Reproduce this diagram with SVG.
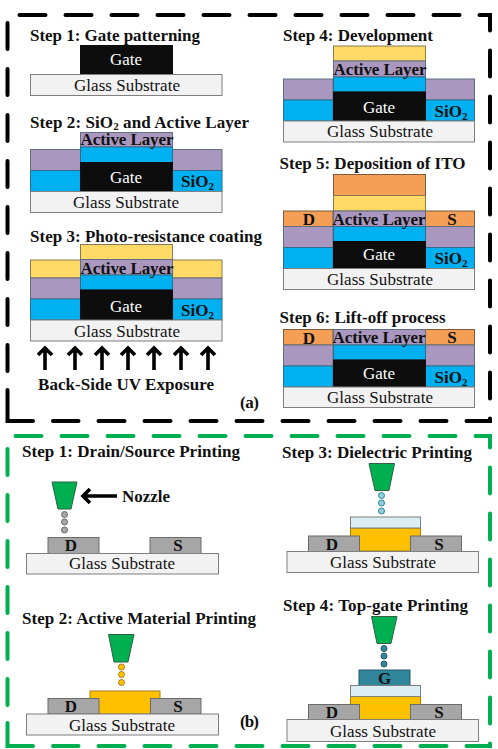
<svg xmlns="http://www.w3.org/2000/svg" width="498" height="749" viewBox="0 0 498 749">
<defs>
<style>
text{font-family:"Liberation Serif","Times New Roman",serif;font-size:17px;fill:#111}
.t{font-weight:bold;font-size:17px}
.b{font-weight:bold}
.m{text-anchor:middle}
.w{fill:#fff}
rect,polygon,circle{stroke-width:1}
.glass{fill:#f2f2f2;stroke:#7f7f7f}
.gate{fill:#0d0d0d;stroke:#0d0d0d}
.pur{fill:#a997bf;stroke:#5f6f80}
.cy{fill:#00b0f0;stroke:#2c6e8c}
.yel{fill:#ffd966;stroke:#8a7a50}
.or{fill:#f59e56;stroke:#7d5a3c}
.gr{fill:#a6a6a6;stroke:#6b6b6b}
.am{fill:#ffc000;stroke:#a67c1a}
.lb{fill:#daeef3;stroke:#7f7f7f}
.tg{fill:#31859b;stroke:#215968}
.noz{fill:#00b050;stroke:#2f5f45}
.d1{fill:#a6a6a6;stroke:#6b6b6b}
.d2{fill:#ffc000;stroke:#a67c1a}
.d3{fill:#92cddc;stroke:#31859b}
.d4{fill:#31859b;stroke:#215968}
.bk{fill:none;stroke:#000;stroke-width:4;stroke-linecap:round;stroke-dasharray:26 20}
.bs{fill:none;stroke:#000;stroke-width:4;stroke-linecap:round;stroke-linejoin:miter}
.gn{fill:none;stroke:#00b050;stroke-width:4;stroke-linecap:round;stroke-dasharray:26 20}
.gs{fill:none;stroke:#00b050;stroke-width:4;stroke-linecap:round;stroke-linejoin:miter}
.ar{fill:none;stroke:#000;stroke-width:3.6}
</style>
</defs>
<g id="connectors">
<path class="bk" d="M19.500 15H490V421H53"/>
<path class="bk" d="M7.500 23V389"/>
<path class="bs" d="M7.500 390V421H33"/>
<path class="gn" d="M15.500 436H490V746H53"/>
<path class="gn" d="M7.500 449V722"/>
<path class="gs" d="M7.500 723V746H33"/>
<g class="ar">
<path d="M45 370V348M38 355L45 348L52 355"/>
<path d="M75 370V348M68 355L75 348L82 355"/>
<path d="M102 370V348M95 355L102 348L109 355"/>
<path d="M128 370V348M121 355L128 348L135 355"/>
<path d="M154 370V348M147 355L154 348L161 355"/>
<path d="M181 370V348M174 355L181 348L188 355"/>
<path d="M208 370V348M201 355L208 348L215 355"/>
<path d="M117 496H83M90 489L83 496L90 503"/>
</g>
</g>
<g id="a-step1">
<text class="t" x="30" y="41" textLength="170">Step 1: Gate patterning</text>
<rect class="gate" x="80.500" y="45.500" width="92" height="29"/>
<rect class="glass" x="30.500" y="74.500" width="191.500" height="21"/>
<text class="w m" x="126" y="65" textLength="32">Gate</text>
<text class="m" x="127" y="91" textLength="106">Glass Substrate</text>
</g>
<g id="a-step2">
<text class="t" x="30" y="128" textLength="219">Step 2: SiO<tspan font-size="11" dy="2">2</tspan><tspan dy="-2"> and Active Layer</tspan></text>
<rect class="pur" x="30.500" y="149.500" width="50" height="21"/>
<rect class="pur" x="172.500" y="149.500" width="49.500" height="21"/>
<rect class="cy" x="30.500" y="170.500" width="50" height="21"/>
<rect class="cy" x="172.500" y="170.500" width="49.500" height="21"/>
<rect class="pur" x="80.500" y="132.500" width="92" height="14.500"/>
<rect class="cy" x="80.500" y="147" width="92" height="15.500"/>
<rect class="gate" x="80.500" y="162.500" width="92" height="29"/>
<rect class="glass" x="30.500" y="191.500" width="191.500" height="21"/>
<text class="b m" x="127" y="145" textLength="93">Active Layer</text>
<text class="w m" x="126" y="183" textLength="32">Gate</text>
<text class="b" x="181" y="187" textLength="33">SiO<tspan font-size="11" dy="3">2</tspan></text>
<text class="m" x="126" y="208" textLength="106">Glass Substrate</text>
</g>
<g id="a-step3">
<text class="t" x="30" y="242" textLength="232">Step 3: Photo-resistance coating</text>
<rect class="yel" x="30.500" y="260" width="50" height="18"/>
<rect class="yel" x="172.500" y="260" width="49.500" height="18"/>
<rect class="pur" x="30.500" y="278" width="50" height="21"/>
<rect class="pur" x="172.500" y="278" width="49.500" height="21"/>
<rect class="cy" x="30.500" y="299" width="50" height="21"/>
<rect class="cy" x="172.500" y="299" width="49.500" height="21"/>
<rect class="yel" x="80.500" y="244.500" width="92" height="15"/>
<rect class="pur" x="80.500" y="259.500" width="92" height="15.500"/>
<rect class="cy" x="80.500" y="275" width="92" height="15"/>
<rect class="gate" x="80.500" y="290" width="92" height="30"/>
<rect class="glass" x="30.500" y="320" width="191.500" height="21"/>
<text class="b m" x="127" y="274" textLength="93">Active Layer</text>
<text class="w m" x="126" y="312" textLength="32">Gate</text>
<text class="b" x="181" y="316" textLength="33">SiO<tspan font-size="11" dy="3">2</tspan></text>
<text class="m" x="127" y="337" textLength="106">Glass Substrate</text>
<text class="b" x="38" y="390" textLength="176">Back-Side UV Exposure</text>
<text class="b" x="240" y="408" textLength="19">(a)</text>
</g>
<g id="a-step4">
<text class="t" x="283" y="41" textLength="150">Step 4: Development</text>
<rect class="pur" x="283.500" y="79" width="49.500" height="21"/>
<rect class="pur" x="425" y="79" width="49.500" height="21"/>
<rect class="cy" x="283.500" y="100" width="49.500" height="21"/>
<rect class="cy" x="425" y="100" width="49.500" height="21"/>
<rect class="yel" x="333.500" y="46" width="92" height="15"/>
<rect class="pur" x="333.500" y="61" width="92" height="16"/>
<rect class="cy" x="333.500" y="77" width="92" height="15"/>
<rect class="gate" x="333.500" y="92" width="92" height="29"/>
<rect class="glass" x="283.500" y="121" width="191" height="21"/>
<text class="b m" x="380" y="75" textLength="93">Active Layer</text>
<text class="w m" x="379" y="113" textLength="32">Gate</text>
<text class="b" x="434.500" y="117" textLength="33">SiO<tspan font-size="11" dy="3">2</tspan></text>
<text class="m" x="380" y="137" textLength="106">Glass Substrate</text>
</g>
<g id="a-step5">
<text class="t" x="279.500" y="169" textLength="186">Step 5: Deposition of ITO</text>
<rect class="or" x="283.500" y="211" width="49.500" height="15.500"/>
<rect class="or" x="425" y="211" width="49.500" height="15.500"/>
<rect class="pur" x="283.500" y="226.500" width="49.500" height="21"/>
<rect class="pur" x="425" y="226.500" width="49.500" height="21"/>
<rect class="cy" x="283.500" y="247.500" width="49.500" height="21"/>
<rect class="cy" x="425" y="247.500" width="49.500" height="21"/>
<rect class="or" x="333.500" y="174.500" width="92" height="21"/>
<rect class="yel" x="333.500" y="195.500" width="92" height="15.500"/>
<rect class="pur" x="333.500" y="211" width="92" height="15.500"/>
<rect class="cy" x="333.500" y="226.500" width="92" height="15"/>
<rect class="gate" x="333.500" y="241.500" width="92" height="27"/>
<rect class="glass" x="283.500" y="268.500" width="191" height="21"/>
<text class="b m" x="379" y="225" textLength="93">Active Layer</text>
<text class="b m" x="309" y="225">D</text>
<text class="b m" x="452" y="225">S</text>
<text class="w m" x="379" y="260" textLength="32">Gate</text>
<text class="b" x="434.500" y="264" textLength="33">SiO<tspan font-size="11" dy="3">2</tspan></text>
<text class="m" x="380" y="285" textLength="106">Glass Substrate</text>
</g>
<g id="a-step6">
<text class="t" x="279.500" y="323" textLength="166">Step 6: Lift-off process</text>
<rect class="or" x="283.500" y="329.500" width="49.500" height="15.500"/>
<rect class="or" x="425" y="329.500" width="49.500" height="15.500"/>
<rect class="pur" x="283.500" y="345" width="49.500" height="21"/>
<rect class="pur" x="425" y="345" width="49.500" height="21"/>
<rect class="cy" x="283.500" y="366" width="49.500" height="21"/>
<rect class="cy" x="425" y="366" width="49.500" height="21"/>
<rect class="pur" x="333.500" y="329.500" width="92" height="15.500"/>
<rect class="cy" x="333.500" y="345" width="92" height="15"/>
<rect class="gate" x="333.500" y="360" width="92" height="27"/>
<rect class="glass" x="283.500" y="387" width="191" height="20.500"/>
<text class="b m" x="379" y="343" textLength="93">Active Layer</text>
<text class="b m" x="309" y="344">D</text>
<text class="b m" x="452" y="343">S</text>
<text class="w m" x="379" y="379" textLength="32">Gate</text>
<text class="b" x="434.500" y="383" textLength="33">SiO<tspan font-size="11" dy="3">2</tspan></text>
<text class="m" x="380" y="403" textLength="106">Glass Substrate</text>
</g>
<g id="b-step1">
<text class="t" x="22" y="457" textLength="218">Step 1: Drain/Source Printing</text>
<polygon class="noz" points="52,482 77,482 71,509 58,509"/>
<circle class="d1" cx="64.500" cy="514.500" r="3"/>
<circle class="d1" cx="64.500" cy="522" r="3"/>
<circle class="d1" cx="64.500" cy="530" r="3"/>
<rect class="gr" x="48" y="537.500" width="51" height="16"/>
<rect class="gr" x="150" y="537.500" width="51" height="16"/>
<rect class="glass" x="26.500" y="553.500" width="192" height="20.500"/>
<text class="b m" x="71" y="551">D</text>
<text class="b m" x="178" y="551">S</text>
<text class="m" x="122" y="569" textLength="106">Glass Substrate</text>
<text class="b" x="122" y="502" textLength="48">Nozzle</text>
</g>
<g id="b-step2">
<text class="t" x="22" y="624" textLength="234">Step 2: Active Material Printing</text>
<polygon class="noz" points="108.500,634.500 134,634.500 128,662 114,662"/>
<circle class="d2" cx="121.500" cy="667" r="3"/>
<circle class="d2" cx="121.500" cy="674.500" r="3"/>
<circle class="d2" cx="121.500" cy="682.500" r="3"/>
<rect class="am" x="90" y="691" width="70" height="23"/>
<rect class="gr" x="48" y="698.500" width="51" height="15.500"/>
<rect class="gr" x="150.500" y="698.500" width="50.500" height="15.500"/>
<rect class="glass" x="26.500" y="714" width="192" height="21"/>
<text class="b m" x="71" y="712">D</text>
<text class="b m" x="178" y="712">S</text>
<text class="m" x="122" y="731" textLength="106">Glass Substrate</text>
<text class="b" x="240" y="727" textLength="19">(b)</text>
</g>
<g id="b-step3">
<text class="t" x="282" y="458" textLength="190">Step 3: Dielectric Printing</text>
<polygon class="noz" points="369,463.500 394.500,463.500 389,490.500 375,490.500"/>
<circle class="d3" cx="381.500" cy="495.500" r="3"/>
<circle class="d3" cx="381.500" cy="503" r="3"/>
<circle class="d3" cx="381.500" cy="511" r="3"/>
<rect class="am" x="350.500" y="528" width="70" height="23"/>
<rect class="lb" x="350.500" y="517" width="70" height="11"/>
<rect class="gr" x="308.500" y="536" width="51" height="15.500"/>
<rect class="gr" x="410.500" y="536" width="51" height="15.500"/>
<rect class="glass" x="287" y="551.500" width="191.500" height="21"/>
<text class="b m" x="332" y="550">D</text>
<text class="b m" x="439" y="550">S</text>
<text class="m" x="383" y="568" textLength="106">Glass Substrate</text>
</g>
<g id="b-step4">
<text class="t" x="283" y="611" textLength="185">Step 4: Top-gate Printing</text>
<polygon class="noz" points="371.500,616.500 397,616.500 391,643.500 377,643.500"/>
<circle class="d4" cx="384" cy="648.500" r="3"/>
<circle class="d4" cx="384" cy="656" r="3"/>
<circle class="d4" cx="384" cy="664" r="3"/>
<rect class="tg" x="359" y="670" width="51" height="15.500"/>
<rect class="am" x="350.500" y="696.500" width="70" height="23"/>
<rect class="lb" x="350.500" y="685.500" width="70" height="11"/>
<rect class="gr" x="308.500" y="704.500" width="51" height="15"/>
<rect class="gr" x="410.500" y="704.500" width="51" height="15"/>
<rect class="glass" x="287" y="719.500" width="191.500" height="22"/>
<text class="b m" x="384.500" y="684">G</text>
<text class="b m" x="332" y="718">D</text>
<text class="b m" x="439" y="718">S</text>
<text class="m" x="383" y="737" textLength="106">Glass Substrate</text>
</g>
</svg>
